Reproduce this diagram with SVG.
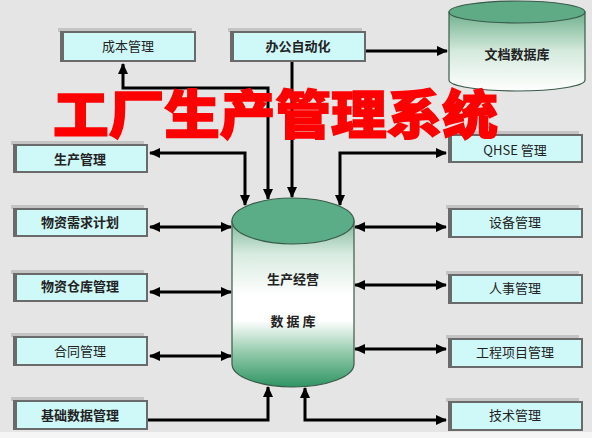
<svg xmlns="http://www.w3.org/2000/svg" width="592" height="438" viewBox="0 0 592 438">
<defs>
<style>
.frame{fill:#6a6a6a}
.hl{fill:#c4c4c4}
.face{fill:#cff9f9}
.lbl{font-family:"Noto Sans CJK SC","Liberation Sans",sans-serif;font-size:13px;fill:#222;text-anchor:middle;dominant-baseline:central}
.b{font-weight:bold}
.con{fill:none;stroke:#000;stroke-width:3}
.cyl{stroke:#3a5a4a;stroke-width:1.2}
</style>
<marker id="ah" markerUnits="userSpaceOnUse" markerWidth="12" markerHeight="12" refX="10" refY="5" orient="auto-start-reverse" viewBox="0 0 12 10">
<path d="M0,0 L11,5 L0,10 Z" fill="#000"/>
</marker>
<linearGradient id="bodyG" x1="0" y1="0" x2="0" y2="1">
<stop offset="0" stop-color="#7fb89a"/>
<stop offset="0.2" stop-color="#d8ebe0"/>
<stop offset="0.45" stop-color="#ffffff"/>
<stop offset="0.6" stop-color="#ffffff"/>
<stop offset="0.8" stop-color="#8fc8a8"/>
<stop offset="1" stop-color="#2f9463"/>
</linearGradient>
<linearGradient id="docG" x1="0" y1="0" x2="0" y2="1">
<stop offset="0" stop-color="#6fb08c"/>
<stop offset="0.5" stop-color="#d5eadd"/>
<stop offset="1" stop-color="#ffffff"/>
</linearGradient>
</defs>
<rect x="0" y="0" width="592" height="438" fill="#e5e5e5"/>
<rect x="0" y="432" width="592" height="6" fill="#f5f5f5"/>

<g id="connectors">
<path class="con" d="M123,64 V88 H268 V199" marker-start="url(#ah)" marker-end="url(#ah)"/>
<path class="con" d="M292,62 V197" marker-end="url(#ah)"/>
<path class="con" d="M150,153 H245 V205" marker-start="url(#ah)" marker-end="url(#ah)"/>
<path class="con" d="M446,153 H340 V205" marker-start="url(#ah)" marker-end="url(#ah)"/>
<path class="con" d="M366,51 H447" marker-end="url(#ah)"/>
<path class="con" d="M150,227 H231" marker-start="url(#ah)" marker-end="url(#ah)"/>
<path class="con" d="M150,292 H231" marker-start="url(#ah)" marker-end="url(#ah)"/>
<path class="con" d="M150,356 H231" marker-start="url(#ah)" marker-end="url(#ah)"/>
<path class="con" d="M355,227 H446" marker-start="url(#ah)" marker-end="url(#ah)"/>
<path class="con" d="M355,285 H446" marker-start="url(#ah)" marker-end="url(#ah)"/>
<path class="con" d="M355,349 H446" marker-start="url(#ah)" marker-end="url(#ah)"/>
<path class="con" d="M148,420 H268 V387" marker-end="url(#ah)"/>
<path class="con" d="M305,388 V420 H446" marker-start="url(#ah)" marker-end="url(#ah)"/>
</g>

<g id="db-main">
<path class="cyl" d="M232,221 V364 A61,23 0 0 0 354,364 V221 Z" fill="url(#bodyG)"/>
<ellipse class="cyl" cx="293" cy="221" rx="61" ry="23" fill="#5aad86"/>
<text class="lbl b" x="293" y="278">生产经营</text>
<text class="lbl b" x="293" y="320">数 据 库</text>
</g>

<g id="db-doc">
<path class="cyl" d="M449,12 V80 A68,11 0 0 0 585,80 V12 Z" fill="url(#docG)"/>
<ellipse class="cyl" cx="517" cy="12" rx="68" ry="11" fill="#5fab86"/>
<text class="lbl b" x="517" y="53">文档数据库</text>
</g>

<g id="n-chengben"><rect class="hl" x="58" y="28" width="134" height="4"/><rect class="frame" x="60" y="31" width="136" height="31"/><rect class="face" x="64" y="33" width="130" height="27"/><text class="lbl" x="128" y="45">成本管理</text></g>
<g id="n-bangong"><rect class="hl" x="228" y="28" width="134" height="4"/><rect class="frame" x="230" y="31" width="136" height="31"/><rect class="face" x="234" y="33" width="130" height="27"/><text class="lbl b" x="298" y="45">办公自动化</text></g>

<g id="n-shengchan"><rect class="hl" x="11" y="141" width="133" height="4"/><rect class="frame" x="13" y="144" width="135" height="29"/><rect class="face" x="17" y="146" width="129" height="25"/><text class="lbl b" x="80" y="158">生产管理</text></g>
<g id="n-xuqiu"><rect class="hl" x="11" y="205" width="133" height="4"/><rect class="frame" x="13" y="208" width="135" height="29"/><rect class="face" x="17" y="210" width="129" height="25"/><text class="lbl b" x="80" y="221">物资需求计划</text></g>
<g id="n-cangku"><rect class="hl" x="11" y="270" width="133" height="4"/><rect class="frame" x="13" y="273" width="135" height="29"/><rect class="face" x="17" y="275" width="129" height="25"/><text class="lbl b" x="80" y="285">物资仓库管理</text></g>
<g id="n-hetong"><rect class="hl" x="11" y="333" width="133" height="4"/><rect class="frame" x="13" y="336" width="135" height="30"/><rect class="face" x="17" y="338" width="129" height="26"/><text class="lbl" x="80" y="350">合同管理</text></g>
<g id="n-jichu"><rect class="hl" x="11" y="397" width="133" height="4"/><rect class="frame" x="13" y="400" width="135" height="30"/><rect class="face" x="17" y="402" width="129" height="26"/><text class="lbl b" x="80" y="414">基础数据管理</text></g>

<g id="n-qhse"><rect class="hl" x="446" y="131" width="133" height="4"/><rect class="frame" x="448" y="134" width="135" height="29"/><rect class="face" x="452" y="136" width="129" height="25"/><text class="lbl" x="515" y="149" font-family="Liberation Serif,Noto Sans CJK SC,serif">QHSE 管理</text></g>
<g id="n-shebei"><rect class="hl" x="446" y="205" width="133" height="4"/><rect class="frame" x="448" y="208" width="135" height="30"/><rect class="face" x="452" y="210" width="129" height="26"/><text class="lbl" x="515" y="221">设备管理</text></g>
<g id="n-renshi"><rect class="hl" x="446" y="271" width="133" height="4"/><rect class="frame" x="448" y="274" width="135" height="30"/><rect class="face" x="452" y="276" width="129" height="26"/><text class="lbl" x="515" y="287">人事管理</text></g>
<g id="n-gongcheng"><rect class="hl" x="446" y="335" width="133" height="4"/><rect class="frame" x="448" y="338" width="135" height="30"/><rect class="face" x="452" y="340" width="129" height="26"/><text class="lbl" x="515" y="351">工程项目管理</text></g>
<g id="n-jishu"><rect class="hl" x="446" y="398" width="133" height="4"/><rect class="frame" x="448" y="401" width="135" height="30"/><rect class="face" x="452" y="403" width="129" height="26"/><text class="lbl" x="515" y="414">技术管理</text></g>

<g id="title">
<text x="53" y="134" font-family="Noto Sans CJK SC,sans-serif" font-weight="900" font-size="52" fill="#ff0000" stroke="#ff0000" stroke-width="1.5" textLength="445" lengthAdjust="spacingAndGlyphs">工厂生产管理系统</text>
</g>
</svg>
